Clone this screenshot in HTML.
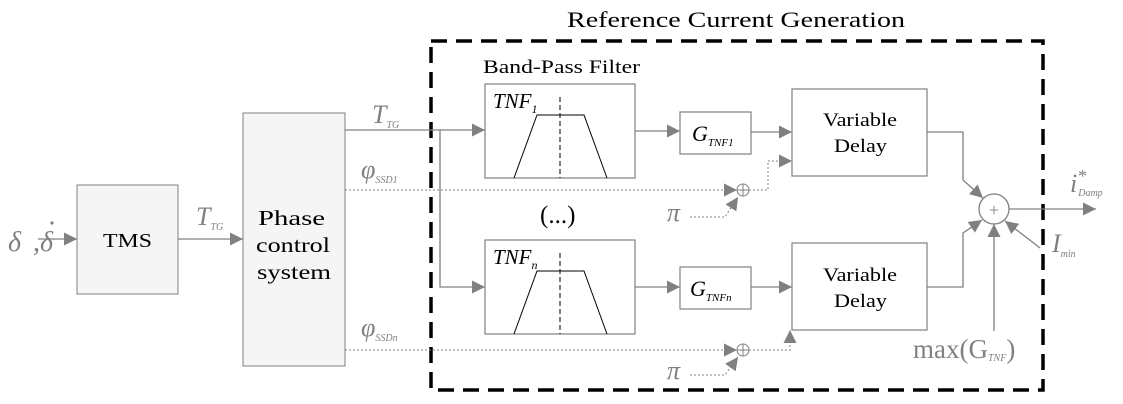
<!DOCTYPE html>
<html><head><style>
body{margin:0;background:#fff}
svg{display:block}
text{font-family:"Liberation Serif",serif}
.g{fill:#808080}
</style></head><body>
<svg width="1123" height="404" viewBox="0 0 1123 404" xmlns="http://www.w3.org/2000/svg">
<defs>
<marker id="a" viewBox="0 0 10 10" refX="10" refY="5" markerWidth="13" markerHeight="13" markerUnits="userSpaceOnUse" orient="auto"><path d="M0,0L10,5L0,10z" fill="#808080"/></marker>
</defs>
<rect x="431" y="41" width="612" height="349" fill="none" stroke="#000" stroke-width="3.5" stroke-dasharray="16,9"/>
<text x="567" y="27" font-size="22" textLength="338" lengthAdjust="spacingAndGlyphs">Reference Current Generation</text>
<text x="483" y="73" font-size="19" textLength="157" lengthAdjust="spacingAndGlyphs">Band-Pass Filter</text>
<rect x="77" y="185" width="101" height="109" fill="#f5f5f5" stroke="#808080"/>
<text x="103" y="247" font-size="20" textLength="49" lengthAdjust="spacingAndGlyphs">TMS</text>
<rect x="243" y="113" width="102" height="253" fill="#f5f5f5" stroke="#808080"/>
<text x="258" y="225" font-size="21" textLength="67" lengthAdjust="spacingAndGlyphs">Phase</text>
<text x="256" y="252" font-size="21" textLength="74" lengthAdjust="spacingAndGlyphs">control</text>
<text x="257" y="279" font-size="21" textLength="74" lengthAdjust="spacingAndGlyphs">system</text>
<g stroke="#808080" fill="none" stroke-width="1.3">
<line x1="38" y1="239" x2="77" y2="239" marker-end="url(#a)"/>
<line x1="178" y1="239" x2="243" y2="239" marker-end="url(#a)"/>
<line x1="345" y1="130" x2="485" y2="130" marker-end="url(#a)"/>
<polyline points="440,130 440,287 485,287" marker-end="url(#a)"/>
<line x1="635" y1="131" x2="680" y2="131" marker-end="url(#a)"/>
<line x1="635" y1="287" x2="680" y2="287" marker-end="url(#a)"/>
<line x1="751" y1="132" x2="792" y2="132" marker-end="url(#a)"/>
<line x1="751" y1="287" x2="792" y2="287" marker-end="url(#a)"/>
<polyline points="927,132 963,132 963,180 983,198" marker-end="url(#a)"/>
<polyline points="927,287 963,287 963,233 982,220" marker-end="url(#a)"/>
<line x1="994" y1="331" x2="994" y2="224" marker-end="url(#a)"/>
<line x1="1040" y1="248" x2="1005" y2="221" marker-end="url(#a)"/>
<line x1="1009" y1="209" x2="1096" y2="209" marker-end="url(#a)"/>
<circle cx="994" cy="209" r="15" fill="#fff"/>
</g>
<text x="994" y="216" font-size="18" text-anchor="middle" class="g">+</text>
<g stroke="#808080" fill="none" stroke-width="1" stroke-dasharray="2,2">
<line x1="345" y1="190" x2="737" y2="190" marker-end="url(#a)"/>
<polyline points="749,190 768,190 768,161 792,161" marker-end="url(#a)"/>
<polyline points="690,217 725,217 738,197" marker-end="url(#a)"/>
<line x1="345" y1="350" x2="737" y2="350" marker-end="url(#a)"/>
<polyline points="749,350 790,350 790,330" marker-end="url(#a)"/>
<polyline points="690,375 725,375 738,357" marker-end="url(#a)"/>
</g>
<g stroke="#808080" fill="#fff" stroke-width="1">
<circle cx="743" cy="190" r="6"/><circle cx="743" cy="350" r="6"/>
</g>
<g stroke="#808080" stroke-width="1"><path d="M737,190h12M743,184v12M737,350h12M743,344v12"/></g>
<g stroke="#808080" fill="#fff" stroke-width="1.2">
<rect x="485" y="84" width="150" height="94"/>
<rect x="485" y="240" width="150" height="94"/>
<rect x="680" y="112" width="71" height="42"/>
<rect x="680" y="267" width="71" height="42"/>
<rect x="792" y="89" width="135" height="87"/>
<rect x="792" y="243" width="135" height="87"/>
</g>
<g stroke="#000" fill="none" stroke-width="1">
<polyline points="514,178 537,115 584,115 607,178"/>
<polyline points="514,334 537,271 584,271 607,334"/>
<line x1="560" y1="97" x2="560" y2="178" stroke-dasharray="5,3"/>
<line x1="560" y1="253" x2="560" y2="334" stroke-dasharray="5,3"/>
</g>
<text x="493" y="108" font-size="21" font-style="italic">TNF<tspan font-size="12" dy="5">1</tspan></text>
<text x="493" y="264" font-size="21" font-style="italic">TNF<tspan font-size="12" dy="5">n</tspan></text>
<text x="692" y="141" font-size="22" font-style="italic">G<tspan font-size="11" dy="5">TNF1</tspan></text>
<text x="690" y="296" font-size="22" font-style="italic">G<tspan font-size="11" dy="5">TNFn</tspan></text>
<text x="823" y="126" font-size="19" textLength="74" lengthAdjust="spacingAndGlyphs">Variable</text>
<text x="834" y="152" font-size="19" textLength="53" lengthAdjust="spacingAndGlyphs">Delay</text>
<text x="823" y="281" font-size="19" textLength="74" lengthAdjust="spacingAndGlyphs">Variable</text>
<text x="834" y="307" font-size="19" textLength="53" lengthAdjust="spacingAndGlyphs">Delay</text>
<text x="540" y="223" font-size="25">(...)</text>
<text x="8" y="251" font-size="28" class="g" font-style="italic">δ</text>
<text x="33" y="251" font-size="28" class="g" font-style="italic">,δ</text>
<circle cx="52" cy="223" r="1.6" fill="#808080"/>
<text x="196" y="225" font-size="26" class="g" font-style="italic">T<tspan font-size="10" dy="5">TG</tspan></text>
<text x="372" y="123" font-size="26" class="g" font-style="italic">T<tspan font-size="10" dy="5">TG</tspan></text>
<text x="361" y="178" font-size="26" class="g" font-style="italic">φ<tspan font-size="10" dy="5">SSD1</tspan></text>
<text x="361" y="336" font-size="26" class="g" font-style="italic">φ<tspan font-size="10" dy="5">SSDn</tspan></text>
<text x="667" y="221" font-size="26" class="g" font-style="italic">π</text>
<text x="667" y="379" font-size="26" class="g" font-style="italic">π</text>
<text x="913" y="358" font-size="27" class="g">max(G<tspan font-size="10" font-style="italic" dy="3">TNF</tspan><tspan dy="-3">)</tspan></text>
<text x="1052" y="252" font-size="26" class="g" font-style="italic">I<tspan font-size="10" dy="5">min</tspan></text>
<text x="1070" y="192" font-size="26" class="g" font-style="italic">i<tspan font-size="18" dy="-10">*</tspan><tspan font-size="10" dx="-8" dy="14">Damp</tspan></text>
</svg>
</body></html>
